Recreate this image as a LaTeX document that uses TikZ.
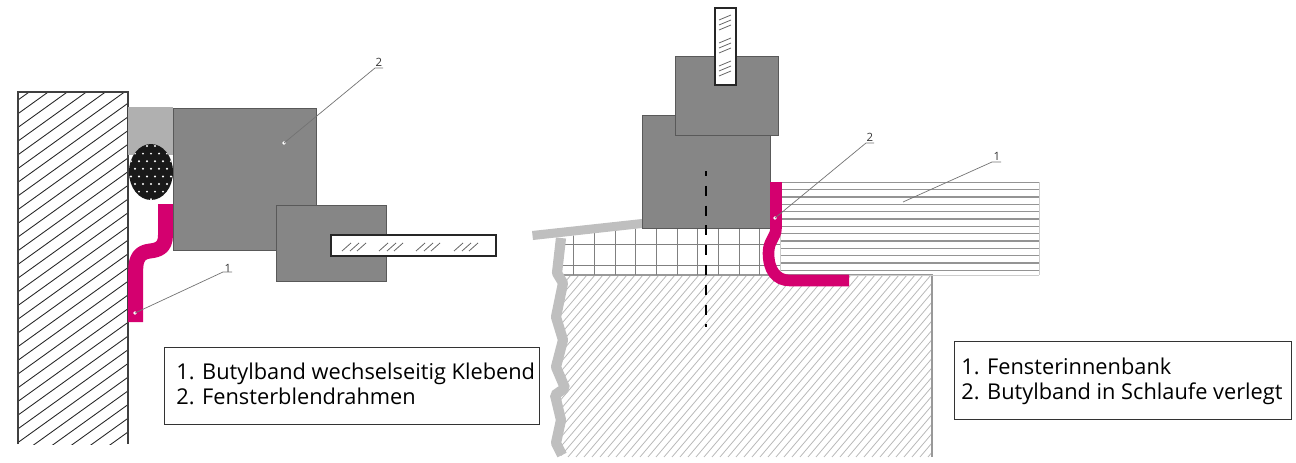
\documentclass[tikz,border=0pt]{standalone}
\usepackage{fontspec}
\setmainfont{Open Sans}
\definecolor{bandred}{HTML}{D4006F}
\definecolor{framegray}{HTML}{868686}
\definecolor{sealgray}{HTML}{B0B0B0}
\tikzset{
	frameblock/.style={draw=black!65,fill=framegray,line width=0.5pt},
	glasspane/.style={draw=black!85,fill=white,line width=1.1pt},
	glassmark/.style={draw=black!60,line width=0.45pt},
	butyl/.style={draw=bandred,line width=6.6pt,line join=round},
	leader/.style={draw=black!55,line width=0.4pt},
	partnum/.style={font=\fontsize{6.5}{8}\selectfont,text=black!80,inner sep=0pt},
	legend/.style={font=\fontsize{12.4}{14.2}\selectfont,align=left,inner sep=0pt,anchor=north west},
	tip/.style={fill=white,draw=none,circle,inner sep=0pt,minimum size=2.2pt}
}
\begin{document}
\begin{tikzpicture}[x=0.02cm,y=-0.02cm]
	\useasboundingbox (0,0) rectangle (1296,463);

	% Left wall
	\begin{scope}
		\clip (18,92) rectangle (128,444);
		\foreach \yy in {0,...,33}
			\draw[black!85,line width=0.5pt] (18,100+\yy*13.7) -- (128,21+\yy*13.7);
	\end{scope}
	\draw[black!75,line width=0.6pt] (18,444) -- (18,92) -- (128,92) -- (128,444);

	% Seal and backing cord
	\fill[sealgray] (128,107) rectangle (173,155);
	\fill[black!90] (151,172) ellipse (22 and 28);
	\begin{scope}
		\clip (151,172) ellipse (22 and 28);
		\foreach \row in {0,...,7}
			\foreach \col in {0,...,5}
				\fill[white] ({131+\col*8+mod(\row,2)*4},{146+\row*7.6}) circle (1.1);
	\end{scope}

	% Left frame and glass
	\draw[frameblock] (173,108) rectangle (316,250);
	\draw[frameblock] (276,205) rectangle (386,281);
	\draw[glasspane] (331,235) rectangle (496,256);
	\foreach \xx in {342,379,416,454}
		\foreach \dx in {0,8,15}
			\draw[glassmark] (\xx+\dx,251) -- (\xx+\dx+9,243);

	% Left butyl band
	\draw[butyl,line width=8.5pt] (165.5,204) -- (165.5,235) .. controls (165.5,248) and (158,250) .. (150,251) .. controls (140,252) and (135.7,258) .. (135.7,270) -- (135.7,322);

	% Right masonry
	\begin{scope}
		\clip (557,275) -- (563,283) -- (556,317) -- (563,340) -- (556,367) -- (565,388) -- (555,395) -- (561,420) -- (556,443) -- (562,457) -- (932,457) -- (932,275) -- cycle;
		\foreach \xx in {360,368,...,940}
			\draw[black!28,line width=0.45pt] (\xx,457) -- (\xx+155,275);
	\end{scope}
	\draw[black!40,line width=0.8pt] (560,275) -- (932,275) -- (932,457);

	% Grid under the frame
	\begin{scope}
		\clip (560,237) -- (642,228) -- (780,228) -- (780,275) -- (560,275) -- cycle;
		\foreach \xx in {573,594,615,635,656,677,697,718,739,759}
			\draw[black!50,line width=0.45pt] (\xx,220) -- (\xx,275);
		\foreach \yy in {244,265}
			\draw[black!50,line width=0.45pt] (560,\yy) -- (780,\yy);
	\end{scope}

	% Outer wall and outer sill
	\draw[black!25,line width=5.8pt,line join=bevel] (561,238) -- (557,273) -- (563,283) -- (556,317) -- (563,340) -- (556,367) -- (565,388) -- (555,395) -- (561,420) -- (556,443) -- (562,455);
	\fill[black!25] (532,231) -- (642,219) -- (642,228) -- (533,240) -- cycle;

	% Inner sill
	\foreach \yy in {0,...,12}
		\draw[black!42,line width=0.7pt] (780,182.3+\yy*7.33) -- (1039,182.3+\yy*7.33);
	\draw[black!20,line width=0.4pt] (780,275) -- (1039,275);
	\draw[black!20,line width=0.4pt] (780,182) -- (780,275);
	\draw[black!20,line width=0.4pt] (1039,182) -- (1039,275);

	% Right frame and glass
	\draw[frameblock] (642,115) rectangle (770,228);
	\draw[frameblock] (675,56) rectangle (778,135);
	\draw[glasspane] (715,8) rectangle (736,85);
	\foreach \yy in {20,43,66}
		\foreach \dy in {0,5,10}
			\draw[glassmark] (719,\yy+\dy) -- (731,\yy+\dy-5);

	% Centre line
	\draw[black,line width=0.85pt,dash pattern=on 0.2cm off 0.196cm,dash phase=0.1cm] (706,171) -- (706,327);

	% Right butyl band
	\draw[butyl] (776,182) -- (776,228) .. controls (776,238) and (768.5,240) .. (768.5,253) .. controls (768.5,270) and (776,280.5) .. (790,280.5) -- (849,280.5);

	% Part numbers
	\node[partnum] (numa) at (228,268) {1};
	\node[partnum] (numb) at (379,62) {2};
	\node[partnum] (numc) at (870,137) {2};
	\node[partnum] (numd) at (997,156) {1};
	\coordinate (enda) at (223,272);
	\coordinate (endb) at (375,68);
	\coordinate (endc) at (866,143);
	\coordinate (endd) at (992,162);
	\node[tip] (tipa) at (135,313) {};
	\node[tip] (tipb) at (284,143) {};
	\node[tip] (tipc) at (775,218) {};
	\coordinate (tipd) at (903,202);

	% Leaders
	\draw[leader] (tipa.center) -- (enda) -- (232,272);
	\draw[leader] (tipb.center) -- (endb) -- (383,68);
	\draw[leader] (tipc.center) -- (endc) -- (874,143);
	\draw[leader] (tipd) -- (endd) -- (1001,162);

	% Legends
	\draw[black!80,line width=0.45pt] (164,347) rectangle (539,424);
	\node[legend] (legenda) at (176,362.5) {1. Butylband wechselseitig Klebend\\2. Fensterblendrahmen};
	\draw[black!80,line width=0.45pt] (954,341) rectangle (1291,419);
	\node[legend] (legendb) at (961,357.5) {1. Fensterinnenbank\\2. Butylband in Schlaufe verlegt};
\end{tikzpicture}
\end{document}
